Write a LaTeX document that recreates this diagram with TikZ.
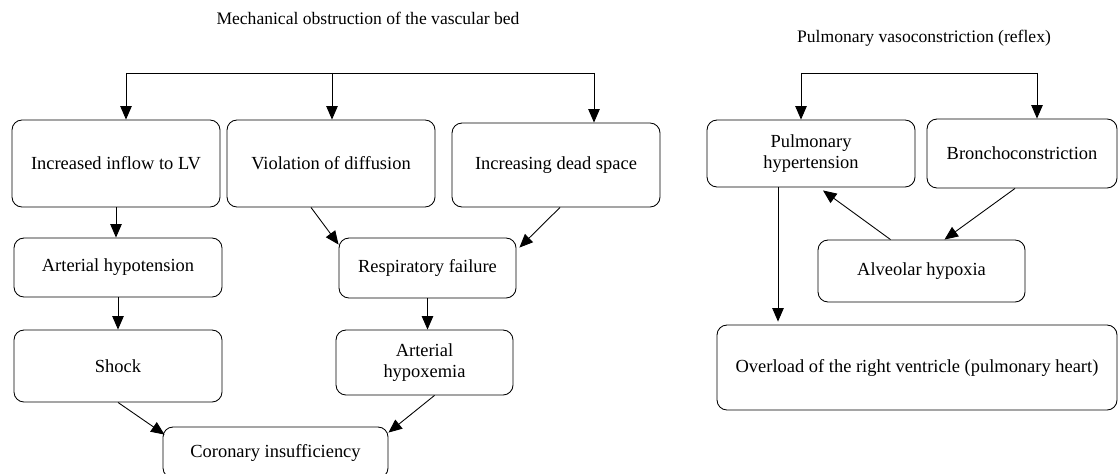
\documentclass[tikz,border=0pt]{standalone}
\usepackage{fontspec}
\setmainfont{Liberation Serif}
\usetikzlibrary{arrows.meta,calc}

\begin{document}
\begin{tikzpicture}[
    x=0.02cm,y=-0.02cm,>={Triangle[length=2.7mm,width=2.3mm]},
    line width=0.5pt,
    box/.style={rectangle,draw,rounded corners=2mm,align=center,
        inner sep=1mm,font=\fontsize{10.5}{11.5}\selectfont},
    boxsize/.style 2 args={minimum width=#1*0.02cm,minimum height=#2*0.02cm},
    heading/.style={font=\fontsize{10}{12}\selectfont}
]
 \useasboundingbox (0,0) rectangle (1118,473);

 % mechanical obstruction
 \node[heading] (title1) at (368,18) {Mechanical obstruction of the vascular bed};
 \node[box,boxsize={208}{87}] (inflow) at (116,163.5) {Increased inflow to LV};
 \node[box,boxsize={208}{87}] (diffusion) at (331,163.5) {Violation of diffusion};
 \node[box,boxsize={208}{84}] (deadspace) at (556,165) {Increasing dead space};
 \node[box,boxsize={208}{59}] (hypotension) at (118,267.5) {Arterial hypotension};
 \node[box,boxsize={208}{72}] (shock) at (118,366) {Shock};
 \node[box,boxsize={177}{60}] (respfail) at (427.5,268) {Respiratory failure};
 \node[box,boxsize={177}{65}] (hypoxemia) at (424.5,362.5) {Arterial\\hypoxemia};
 \node[box,boxsize={225}{51}] (coronary) at (275.5,452.5) {Coronary insufficiency};

 \coordinate (split1) at (126,73);
 \coordinate (split2) at (332,73);
 \coordinate (split3) at (594,73);
 \draw (split1) -- (split3);
 \draw[->] (split1) -- (split1 |- inflow.north);
 \draw[->] (split2) -- (split2 |- diffusion.north);
 \draw[->] (split3) -- (split3 |- deadspace.north);

 \draw[->] (inflow.south) -- (inflow.south |- hypotension.north);
 \draw[->] (hypotension) -- (shock);
 \draw[->] ($(diffusion.south)+(-20,0)$) -- ($(respfail.north west)+(0,7)$);
 \draw[->] ($(deadspace.south)+(4,0)$) -- ($(respfail.north east)+(3,10)$);
 \draw[->] (respfail.south) -- (respfail.south |- hypoxemia.north);
 \draw[->] (shock.south) -- ($(coronary.north west)+(2,8)$);
 \draw[->] ($(hypoxemia.south)+(10,0)$) -- ($(coronary.north east)+(0,6)$);

 % reflex vasoconstriction
 \node[heading] (title2) at (924,38) {Pulmonary vasoconstriction (reflex)};
 \node[box,boxsize={208}{67}] (pulmhyp) at (811,153.5) {Pulmonary\\hypertension};
 \node[box,boxsize={190}{69}] (broncho) at (1022,153.5) {Bronchoconstriction};
 \node[box,boxsize={207}{62}] (alveolar) at (921.5,271) {Alveolar hypoxia};
 \node[box,boxsize={400}{85}] (overload) at (917,367.5) {Overload of the right ventricle (pulmonary heart)};

 \coordinate (split4) at (801,73);
 \coordinate (split5) at (1037,73);
 \draw (split4) -- (split5);
 \draw[->] (split4) -- (split4 |- pulmhyp.north);
 \draw[->] (split5) -- (split5 |- broncho.north);

 \draw[->] ($(broncho.south)+(-7,0)$) -- ($(alveolar.north)+(23,0)$);
 \draw[->] ($(alveolar.north)+(-31,0)$) -- ($(pulmhyp.south)+(12,3)$);
 \coordinate (drop) at ($(pulmhyp.south)+(-33,0)$);
 \draw[->] (drop) -- ($(drop |- overload.north)+(0,-3)$);
\end{tikzpicture}
\end{document}
